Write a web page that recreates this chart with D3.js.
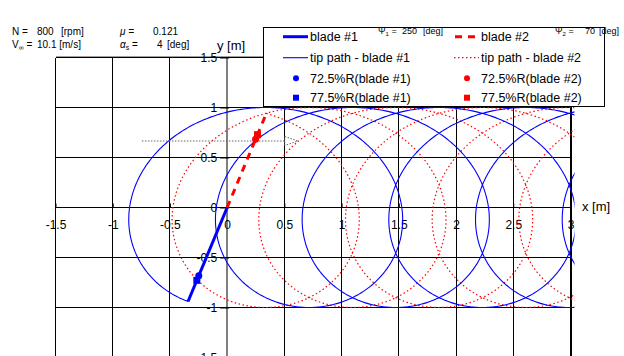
<!DOCTYPE html>
<html>
<head>
<meta charset="utf-8">
<script src="https://cdn.jsdelivr.net/npm/d3@7/dist/d3.min.js"></script>
<style>
  html, body { margin: 0; padding: 0; background: #fff; }
  svg { display: block; }
  text { font-family: "Liberation Sans", Arial, sans-serif; fill: #000; }
</style>
</head>
<body>
<svg id="chart" width="624" height="356"></svg>
<script>
// Rotor operating condition
const rpm = 800;              // N [rpm]
const vInf = 10.1;            // V_inf [m/s]
const mu = 0.121;             // advance ratio
const alphaS = 4;             // shaft angle [deg]
const psi1 = 250;             // blade #1 azimuth [deg]
const psi2 = 70;              // blade #2 azimuth [deg]
const radius = 1.0;           // rotor radius [m]
const stations = [0.725, 0.775];   // marked radial stations (r/R)
const revolutionsShown = 5.5;      // history length of the tip paths [rev]

// Axes
const xTicks = [-1.5, -1, -0.5, 0, 0.5, 1, 1.5, 2, 2.5, 3];
const yTicks = [-1.5, -1, -0.5, 0, 0.5, 1, 1.5];
const xTickLabels = ["-1.5", "-1", "-0.5", "0", "0.5", "1", "1.5", "2", "2.5", "3"];
const yTickLabels = ["-1.5", "-1", "-0.5", "0", "0.5", "1", "1.5"];

// Free-stream arrow (data units)
const flowArrowX = [-0.745, 0.617];
const flowArrowY = 0.665;

const svg = d3.select("#chart");
const x = d3.scaleLinear().domain([-1.5, 3]).range([55.5, 570.5]);
const y = d3.scaleLinear().domain([-1.5, 1.5]).range([357.5, 57.5]);

// hub advance per radian of rotation [m/rad]
const omega = rpm * 2 * Math.PI / 60;
const advance = vInf / omega;
const rad = d => d * Math.PI / 180;

// tip path of a blade now at azimuth psiNow, traced back in time
function tipPath(psiNow) {
  const pts = [];
  const end = psiNow - revolutionsShown * 360;
  for (let p = psiNow; p >= end; p -= 1) {
    pts.push([advance * rad(psiNow - p) + radius * Math.cos(rad(p)),
              radius * Math.sin(rad(p))]);
  }
  return pts;
}
const tip1 = tipPath(psi1);
const tip2 = tipPath(psi2 + 360);
const bladeLine = psi => [[0, 0], [radius * Math.cos(rad(psi)), radius * Math.sin(rad(psi))]];
const stationPt = (psi, r) => [r * radius * Math.cos(rad(psi)), r * radius * Math.sin(rad(psi))];

const line = d3.line().x(d => x(d[0])).y(d => y(d[1]));

// clip region for the curves
svg.append("defs").append("clipPath").attr("id", "plotClip")
  .append("rect").attr("x", x(-1.5)).attr("y", y(1.5))
  .attr("width", x(3) - x(-1.5) + 4).attr("height", y(-1.5) - y(1.5));

// grid
const grid = svg.append("g").attr("shape-rendering", "crispEdges");
grid.selectAll("line.v").data(xTicks).join("line")
  .attr("x1", d => x(d)).attr("x2", d => x(d))
  .attr("y1", y(1.5)).attr("y2", y(-1.5))
  .attr("stroke", d => d === 0 ? "#808080" : "#000")
  .attr("stroke-width", d => (d === 0 || d === 3) ? 2 : 1);
grid.selectAll("line.h").data(yTicks).join("line")
  .attr("x1", x(-1.5)).attr("x2", x(3))
  .attr("y1", d => y(d)).attr("y2", d => y(d))
  .attr("stroke", "#000").attr("stroke-width", 1);
grid.append("line").attr("x1", x(-1.5)).attr("x2", x(3)).attr("y1", y(1.5) - 1).attr("y2", y(1.5) - 1)
  .attr("stroke", "#a0a0a0");

// axes (labels and tick marks)
const xAxis = d3.axisBottom(x).tickValues(xTicks)
  .tickFormat((d, i) => xTickLabels[i]).tickSizeInner(-4).tickSizeOuter(0).tickPadding(13);
const gx = svg.append("g").attr("transform", `translate(0,${y(0)})`).call(xAxis);
gx.select(".domain").remove();
gx.selectAll("text").style("font-size", "12px").style("font-family", "Liberation Sans, Arial, sans-serif");

const yAxis = d3.axisLeft(y).tickValues(yTicks)
  .tickFormat((d, i) => yTickLabels[i]).tickSizeInner(7).tickSizeOuter(0).tickPadding(3);
const gy = svg.append("g").attr("transform", `translate(${x(0)},0)`).call(yAxis);
gy.select(".domain").remove();
gy.selectAll("line").attr("x2", 2).attr("x1", -7);
gy.selectAll("text").style("font-size", "12px").style("font-family", "Liberation Sans, Arial, sans-serif");

// tip paths
const curves = svg.append("g").attr("clip-path", "url(#plotClip)");
curves.append("path").datum(tip2).attr("d", line)
  .attr("fill", "none").attr("stroke", "#ff0000").attr("stroke-width", 1.2)
  .attr("stroke-dasharray", "1.5,2.5");
curves.append("path").datum(tip1).attr("d", line)
  .attr("fill", "none").attr("stroke", "#0000ff").attr("stroke-width", 1.1);

// free-stream arrow
const ax0 = x(flowArrowX[0]), ax1 = x(flowArrowX[1]), ay = y(flowArrowY);
svg.append("line").attr("x1", ax0).attr("x2", ax1 - 13).attr("y1", ay).attr("y2", ay)
  .attr("stroke", "#666").attr("stroke-width", 1.2).attr("stroke-dasharray", "1.5,1.5");
svg.append("path")
  .attr("d", `M${ax1 - 13},${ay - 4.5} L${ax1},${ay} L${ax1 - 13},${ay + 4.5} Z`)
  .attr("fill", "#fff").attr("fill-opacity", 0.6).attr("stroke", "#666").attr("stroke-width", 1)
  .attr("stroke-dasharray", "1.5,1.5");

// blades
svg.append("path").datum(bladeLine(psi2)).attr("d", line)
  .attr("stroke", "#ff0000").attr("stroke-width", 3).attr("stroke-dasharray", "7,6").attr("fill", "none");
svg.append("path").datum(bladeLine(psi1)).attr("d", line)
  .attr("stroke", "#0000ff").attr("stroke-width", 3).attr("fill", "none");

// radial station markers
const markers = [
  { psi: psi1, r: stations[0], shape: "circle", color: "#0000ff" },
  { psi: psi1, r: stations[1], shape: "square", color: "#0000ff" },
  { psi: psi2, r: stations[0], shape: "circle", color: "#ff0000" },
  { psi: psi2, r: stations[1], shape: "square", color: "#ff0000" }
];
markers.forEach(m => {
  const p = stationPt(m.psi, m.r);
  if (m.shape === "circle") {
    svg.append("circle").attr("cx", x(p[0])).attr("cy", y(p[1])).attr("r", 3.5).attr("fill", m.color);
  } else {
    svg.append("rect").attr("x", x(p[0]) - 3.5).attr("y", y(p[1]) - 3.5)
      .attr("width", 7).attr("height", 7).attr("fill", m.color);
  }
});

// axis titles
svg.append("text").attr("x", 582).attr("y", 211).style("font-size", "13px").text("x [m]");
svg.append("text").attr("x", 217).attr("y", 50).style("font-size", "13px").text("y [m]");

// operating condition text
const info = svg.append("g").style("font-size", "10px");
info.append("text").attr("x", 12).attr("y", 35).text("N =");
info.append("text").attr("x", 37).attr("y", 35).text("800");
info.append("text").attr("x", 61).attr("y", 35).text("[rpm]");
const vt = info.append("text").attr("x", 12).attr("y", 48);
vt.append("tspan").text("V");
vt.append("tspan").attr("dy", 2).style("font-size", "7px").text("∞");
vt.append("tspan").attr("dy", -2).text(" =");
info.append("text").attr("x", 37).attr("y", 48).text("10.1 [m/s]");
info.append("text").attr("x", 120).attr("y", 35).style("font-style", "italic").text("μ =");
info.append("text").attr("x", 153).attr("y", 35).text("0.121");
const at = info.append("text").attr("x", 120).attr("y", 48);
at.append("tspan").style("font-style", "italic").text("α");
at.append("tspan").attr("dy", 2).style("font-size", "7px").text("s");
at.append("tspan").attr("dy", -2).text(" =");
info.append("text").attr("x", 157).attr("y", 48).text("4");
info.append("text").attr("x", 167).attr("y", 48).text("[deg]");

// legend
const lg = svg.append("g");
lg.append("rect").attr("x", 263.5).attr("y", 27.5).attr("width", 341).attr("height", 79)
  .attr("fill", "#fff").attr("stroke", "#000").attr("stroke-width", 1);
const rows = [36.7, 57.7, 78.3, 97.7];
const legendItems = [
  { col: 0, row: 0, label: "blade #1", kind: "line", color: "#0000ff", width: 3, dash: null },
  { col: 1, row: 0, label: "blade #2", kind: "line", color: "#ff0000", width: 3, dash: "7,6" },
  { col: 0, row: 1, label: "tip path - blade #1", kind: "line", color: "#0000ff", width: 1.1, dash: null },
  { col: 1, row: 1, label: "tip path - blade #2", kind: "line", color: "#ff0000", width: 1.2, dash: "1.5,2.5" },
  { col: 0, row: 2, label: "72.5%R(blade #1)", kind: "circle", color: "#0000ff" },
  { col: 1, row: 2, label: "72.5%R(blade #2)", kind: "circle", color: "#ff0000" },
  { col: 0, row: 3, label: "77.5%R(blade #1)", kind: "square", color: "#0000ff" },
  { col: 1, row: 3, label: "77.5%R(blade #2)", kind: "square", color: "#ff0000" }
];
const colX = [283, 454];
legendItems.forEach(it => {
  const x0 = colX[it.col], yy = rows[it.row];
  if (it.kind === "line") {
    const l = lg.append("line").attr("x1", x0).attr("x2", x0 + 25).attr("y1", yy).attr("y2", yy)
      .attr("stroke", it.color).attr("stroke-width", it.width);
    if (it.dash) l.attr("stroke-dasharray", it.dash).attr("stroke-dashoffset", it.width > 2 ? -1 : 0);
  } else if (it.kind === "circle") {
    lg.append("circle").attr("cx", x0 + 13).attr("cy", yy).attr("r", 3).attr("fill", it.color);
  } else {
    lg.append("rect").attr("x", x0 + 10).attr("y", yy - 3).attr("width", 6).attr("height", 6).attr("fill", it.color);
  }
  lg.append("text").attr("x", x0 + 27).attr("y", yy + 4.5).style("font-size", "12.5px").text(it.label);
});

// azimuth labels
const azim = [{ x: 378, v: psi1, sub: "1", vx: 402 }, { x: 555, v: psi2, sub: "2", vx: 585 }];
azim.forEach(a => {
  const t = svg.append("text").attr("x", a.x).attr("y", 34).style("font-size", "9px");
  t.append("tspan").text("Ψ");
  t.append("tspan").attr("dy", 2).style("font-size", "6px").text(a.sub);
  t.append("tspan").attr("dy", -2).text(" =");
  svg.append("text").attr("x", a.vx).attr("y", 34).style("font-size", "9px").text(a.v);
  svg.append("text").attr("x", a.vx + (String(a.v).length === 3 ? 21 : 14)).attr("y", 34)
    .style("font-size", "9px").text("[deg]");
});
</script>
</body>
</html>
